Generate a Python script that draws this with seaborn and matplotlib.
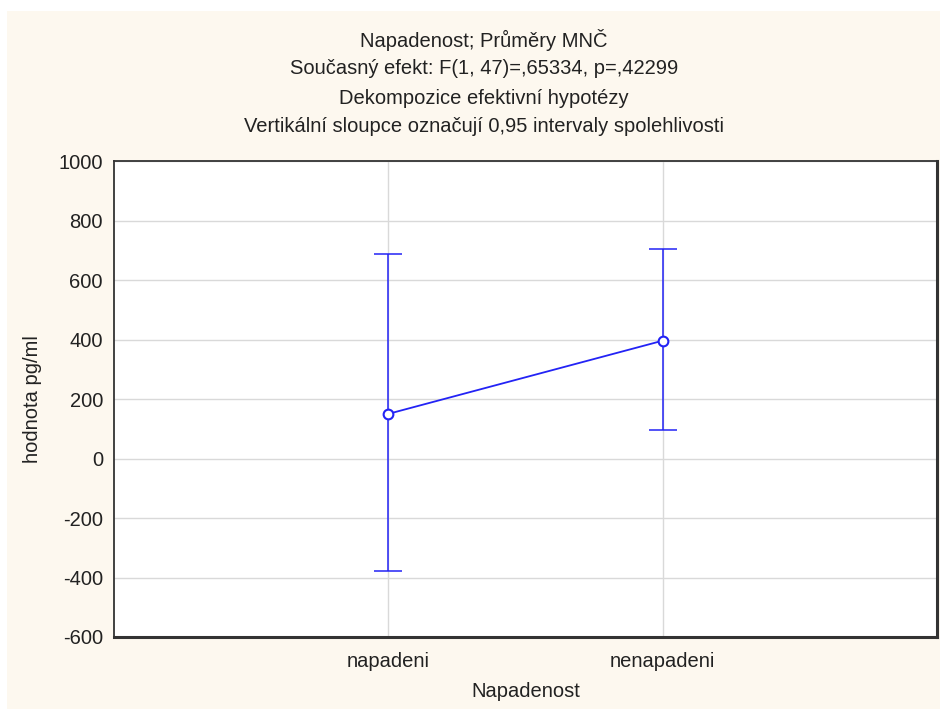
import matplotlib
matplotlib.use("Agg")
import matplotlib.pyplot as plt
import seaborn as sns
import pandas as pd
from matplotlib.patches import Rectangle

categories = ["napadeni", "nenapadeni"]
means = [150, 396]
ci_lower = [-378, 97]
ci_upper = [687, 704]
y_ticks = [-600, -400, -200, 0, 200, 400, 600, 800, 1000]

title_lines = [
    "Napadenost; Průměry MNČ",
    "Současný efekt: F(1, 47)=,65334, p=,42299",
    "Dekompozice efektivní hypotézy",
    "Vertikální sloupce označují 0,95 intervaly spolehlivosti",
]

sns.set_style("white")
plt.rcParams["font.family"] = ["Liberation Sans", "DejaVu Sans"]

W, H = 940, 709
fig = plt.figure(figsize=(W / 100, H / 100), dpi=100)
fig.patch.set_facecolor("white")
fig.patches.append(Rectangle((7 / W, 0), 1 - 7 / W, 1 - 11 / H, transform=fig.transFigure,
                             facecolor="#fdf8ef", edgecolor="none", zorder=-10))

ax = fig.add_axes([114 / W, 1 - 637 / H, (937 - 114) / W, (637 - 161) / H])
ax.set_facecolor("white")

df = pd.DataFrame({"cat": categories, "pos": list(range(len(categories))), "mean": means,
                   "lo": ci_lower, "hi": ci_upper})

blue = "#2323f5"
ax.errorbar(df["pos"], df["mean"],
            yerr=[df["mean"] - df["lo"], df["hi"] - df["mean"]],
            fmt="none", ecolor=blue, elinewidth=1.1, capsize=10, capthick=1.1, zorder=3)
sns.lineplot(data=df, x="pos", y="mean", ax=ax, color=blue, linewidth=1.3,
             marker="o", markersize=7, markerfacecolor="white", markeredgecolor=blue,
             markeredgewidth=1.5, zorder=4)

ax.set_xlim(-1, 2)
ax.set_ylim(-600, 1000)
ax.set_xticks(df["pos"])
ax.set_xticklabels(categories)
ax.set_yticks(y_ticks)
ax.set_yticklabels([str(t) for t in y_ticks])
ax.grid(True, color="#d9d9d9", linewidth=1.0)
ax.set_axisbelow(True)
ax.tick_params(axis="x", direction="in", length=4, width=1, color="#333333",
               labelsize=14.5, labelcolor="#222222", pad=11)
ax.tick_params(axis="y", length=0, labelsize=14.5, labelcolor="#222222", pad=8)
for s in ax.spines.values():
    s.set_visible(True)
    s.set_color("#333333")
    s.set_linewidth(1.3)
ax.spines["right"].set_linewidth(2.2)
ax.spines["bottom"].set_linewidth(2.2)

ax.set_xlabel("Napadenost", fontsize=14.5, color="#222222", labelpad=8)
ax.set_ylabel("hodnota pg/ml", fontsize=14.5, color="#222222", labelpad=12)

for i, line in enumerate(title_lines):
    fig.text(484 / W, 1 - (40 + i * 29) / H, line, ha="center", va="center",
             fontsize=14.5, color="#222222")

fig.savefig("out.png", dpi=100, facecolor=fig.get_facecolor())
